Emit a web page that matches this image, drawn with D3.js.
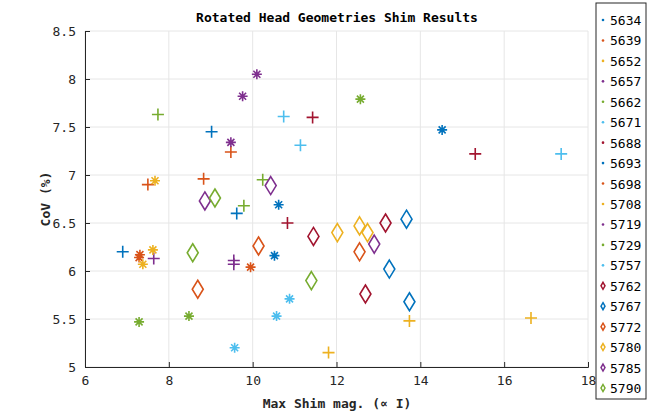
<!DOCTYPE html>
<html lang="en">
<head>
<meta charset="utf-8">
<script src="https://cdn.jsdelivr.net/npm/d3@7"></script>
<style>
  body { margin: 0; background: #fff; }
  text { font-family: "DejaVu Sans Mono", monospace; }
</style>
</head>
<body>
<script>
    var seriesNames = ['5634', '5639', '5652', '5657', '5662', '5671', '5688',
        '5693', '5698', '5708', '5719', '5729', '5757',
        '5762', '5767', '5772', '5780', '5785', '5790'];
    var seriesMarkers = ['+', '+', '+', '+', '+', '+', '+',
        '*', '*', '*', '*', '*', '*',
        'd', 'd', 'd', 'd', 'd', 'd'];
    var seriesColors = ['#0072BD', '#D95319', '#EDB120', '#7E2F8E', '#77AC30', '#4DBEEE', '#A2142F',
        '#0072BD', '#D95319', '#EDB120', '#7E2F8E', '#77AC30', '#4DBEEE',
        '#A2142F', '#0072BD', '#D95319', '#EDB120', '#7E2F8E', '#77AC30'];
    var xVals = [
        [6.9, 9.02, 9.62], [7.5, 8.83, 9.48], [11.81, 13.74, 16.64], [7.64, 9.55, 9.55],
        [7.74, 10.24, 9.79], [10.74, 11.14, 17.36], [11.43, 10.83, 15.31],
        [10.62, 10.52, 14.52], [7.31, 7.29, 9.95], [7.67, 7.62, 7.38], [10.1, 9.76, 9.48],
        [12.57, 8.48, 7.29], [10.88, 10.57, 9.57],
        [11.45, 12.69, 13.17], [13.67, 13.26, 13.74], [12.55, 10.14, 8.69],
        [12.02, 12.55, 12.74], [10.43, 8.86, 12.9], [9.1, 8.57, 11.4]
    ];
    var yVals = [
        [6.2, 7.45, 6.6], [6.9, 6.96, 7.24], [5.15, 5.48, 5.51], [6.13, 6.11, 6.07],
        [7.63, 6.95, 6.68], [7.61, 7.31, 7.22], [7.6, 6.5, 7.22],
        [6.69, 6.16, 7.47], [6.17, 6.14, 6.04], [6.94, 6.22, 6.07], [8.05, 7.82, 7.34],
        [7.79, 5.53, 5.47], [5.71, 5.53, 5.2],
        [6.36, 5.76, 6.5], [6.54, 6.02, 5.68], [6.2, 6.26, 5.81],
        [6.4, 6.47, 6.4], [6.89, 6.73, 6.28], [6.76, 6.19, 5.9]
    ];
    var xTicks = [6, 8, 10, 12, 14, 16, 18];
    var yTicks = [5, 5.5, 6, 6.5, 7, 7.5, 8, 8.5];

    var W = 650, H = 414;
    var padL = 85, padR = 588, padT = 31, padB = 367;

    var svg = d3.select('body').append('svg')
            .attr('width', W).attr('height', H);

    var x = d3.scaleLinear().domain([6, 18]).range([padL, padR]);
    var y = d3.scaleLinear().domain([5, 8.5]).range([padB, padT]);

    // grid
    svg.append('g').selectAll('line').data(xTicks).enter().append('line')
            .attr('x1', function (d) { return x(d); }).attr('x2', function (d) { return x(d); })
            .attr('y1', padT).attr('y2', padB)
            .attr('stroke', '#e6e6e6');
    svg.append('g').selectAll('line').data(yTicks).enter().append('line')
            .attr('y1', function (d) { return y(d); }).attr('y2', function (d) { return y(d); })
            .attr('x1', padL).attr('x2', padR)
            .attr('stroke', '#e6e6e6');

    var xAxis = svg.append('g').attr('transform', 'translate(0,' + padB + ')')
            .call(d3.axisBottom(x).tickValues(xTicks).tickSize(-5).tickPadding(9).tickFormat(d3.format('d')));
    var yAxis = svg.append('g').attr('transform', 'translate(' + padL + ',0)')
            .call(d3.axisLeft(y).tickValues(yTicks).tickSize(-5).tickPadding(9).tickFormat(function (d) { return d; }));
    [xAxis, yAxis].forEach(function (a) {
        a.select('.domain').attr('stroke', '#262626');
        a.selectAll('.tick line').attr('stroke', '#262626');
        a.selectAll('text').attr('font-family', '"DejaVu Sans Mono", monospace')
                .attr('font-size', 13).attr('fill', '#262626');
    });

    function drawMarker(g, type, color) {
        if (type === '+') {
            g.append('path').attr('d', 'M-6,0H6M0,-6V6');
        } else if (type === '*') {
            g.append('path').attr('d', 'M-5,0H5M0,-5V5M-3.5,-3.5L3.5,3.5M-3.5,3.5L3.5,-3.5');
        } else {
            g.append('path').attr('d', 'M0,-9L5.5,0L0,9L-5.5,0Z');
        }
        g.selectAll('path').attr('fill', 'none').attr('stroke', color).attr('stroke-width', 1.6);
    }

    var pts = svg.append('g');
    seriesNames.forEach(function (name, i) {
        xVals[i].forEach(function (xv, j) {
            var g = pts.append('g').attr('transform', 'translate(' + x(xv) + ',' + y(yVals[i][j]) + ')');
            drawMarker(g, seriesMarkers[i], seriesColors[i]);
        });
    });

    svg.append('text').attr('x', 337).attr('y', 22).attr('text-anchor', 'middle')
            .attr('font-size', 13).attr('font-weight', 'bold').attr('fill', '#000')
            .text('Rotated Head Geometries Shim Results');
    svg.append('text').attr('x', 337).attr('y', 408).attr('text-anchor', 'middle')
            .attr('font-size', 13).attr('font-weight', 'bold').attr('fill', '#262626')
            .text('Max Shim mag. (\u221D I)');
    svg.append('text').attr('transform', 'translate(50,' + ((padT + padB) / 2) + ') rotate(-90)')
            .attr('text-anchor', 'middle').attr('font-size', 13).attr('font-weight', 'bold')
            .attr('fill', '#262626').text('CoV (%)');

    // legend
    var lg = svg.append('g');
    lg.append('rect').attr('x', 596).attr('y', 3).attr('width', 50).attr('height', 396)
            .attr('fill', '#fff').attr('stroke', '#262626').attr('stroke-width', 1);
    var ly = d3.scaleLinear().domain([0, seriesNames.length - 1]).range([20, 388]);
    seriesNames.forEach(function (name, i) {
        var row = lg.append('g').attr('transform', 'translate(603,' + ly(i) + ')');
        if (seriesMarkers[i] === 'd') {
            row.append('path').attr('d', 'M0,-3.5L2,0L0,3.5L-2,0Z')
                    .attr('fill', 'none').attr('stroke', seriesColors[i]).attr('stroke-width', 1.5);
        } else {
            row.append('circle').attr('r', 1.3).attr('fill', seriesColors[i]);
        }
        row.append('text').attr('x', 7).attr('y', 5).attr('font-size', 13)
                .attr('fill', '#000').text(name);
    });
</script>
</body>
</html>
